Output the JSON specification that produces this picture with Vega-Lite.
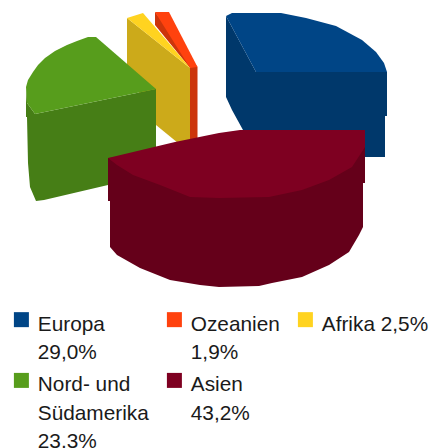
{"$schema":"https://vega.github.io/schema/vega-lite/v6.json","width":438,"height":448,"padding":0,"autosize":"none","background":"white",
"config":{"view":{"stroke":null},"font":"Liberation Sans","style":{"guide-label":{"lineHeight":28.3}}},
"data":{"values":[
{"f":"Ozeanien Seite","i":1,"x":155,"y":12},{"f":"Ozeanien Seite","i":2,"x":155,"y":25},{"f":"Ozeanien Seite","i":3,"x":190,"y":68},{"f":"Ozeanien Seite","i":4,"x":190,"y":145},{"f":"Ozeanien Seite","i":5,"x":197.5,"y":145},{"f":"Ozeanien Seite","i":6,"x":197.5,"y":67},
{"f":"Ozeanien","i":1,"x":155,"y":12},{"f":"Ozeanien","i":2,"x":169,"y":12},{"f":"Ozeanien","i":3,"x":197.5,"y":67},{"f":"Ozeanien","i":4,"x":190,"y":68},
{"f":"Afrika Seite","i":1,"x":127,"y":18},{"f":"Afrika Seite","i":2,"x":127,"y":70},{"f":"Afrika Seite","i":3,"x":156,"y":125},{"f":"Afrika Seite","i":4,"x":178,"y":143},{"f":"Afrika Seite","i":5,"x":190,"y":143},{"f":"Afrika Seite","i":6,"x":190,"y":68},
{"f":"Afrika","i":1,"x":127,"y":18},{"f":"Afrika","i":2,"x":143,"y":13},{"f":"Afrika","i":3,"x":186,"y":63},{"f":"Afrika","i":4,"x":190,"y":68},
{"f":"Nord- und Südamerika Seite","i":1,"x":26,"y":87},{"f":"Nord- und Südamerika Seite","i":2,"x":26,"y":117},{"f":"Nord- und Südamerika Seite","i":3,"x":27,"y":117},{"f":"Nord- und Südamerika Seite","i":4,"x":28,"y":163},{"f":"Nord- und Südamerika Seite","i":5,"x":30,"y":187},{"f":"Nord- und Südamerika Seite","i":6,"x":36,"y":201},{"f":"Nord- und Südamerika Seite","i":7,"x":44,"y":200},{"f":"Nord- und Südamerika Seite","i":8,"x":108,"y":185},{"f":"Nord- und Südamerika Seite","i":9,"x":156,"y":172},{"f":"Nord- und Südamerika Seite","i":10,"x":156,"y":89},{"f":"Nord- und Südamerika Seite","i":11,"x":35,"y":114},{"f":"Nord- und Südamerika Seite","i":12,"x":27,"y":103},
{"f":"Nord- und Südamerika","i":1,"x":96,"y":37},{"f":"Nord- und Südamerika","i":2,"x":88,"y":37},{"f":"Nord- und Südamerika","i":3,"x":77,"y":41},{"f":"Nord- und Südamerika","i":4,"x":67,"y":45},{"f":"Nord- und Südamerika","i":5,"x":55,"y":51},{"f":"Nord- und Südamerika","i":6,"x":45,"y":58},{"f":"Nord- und Südamerika","i":7,"x":38,"y":65},{"f":"Nord- und Südamerika","i":8,"x":33,"y":72},{"f":"Nord- und Südamerika","i":9,"x":28,"y":80},{"f":"Nord- und Südamerika","i":10,"x":26,"y":87},{"f":"Nord- und Südamerika","i":11,"x":27,"y":103},{"f":"Nord- und Südamerika","i":12,"x":35,"y":114},{"f":"Nord- und Südamerika","i":13,"x":156,"y":89},
{"f":"Europa Seite","i":1,"x":226,"y":16},{"f":"Europa Seite","i":2,"x":226,"y":97},{"f":"Europa Seite","i":3,"x":232,"y":110},{"f":"Europa Seite","i":4,"x":243,"y":130},{"f":"Europa Seite","i":5,"x":250,"y":157},{"f":"Europa Seite","i":6,"x":385,"y":157},{"f":"Europa Seite","i":7,"x":385,"y":116},{"f":"Europa Seite","i":8,"x":387,"y":116},{"f":"Europa Seite","i":9,"x":387,"y":72},{"f":"Europa Seite","i":10,"x":256,"y":72},
{"f":"Europa","i":1,"x":226,"y":16},{"f":"Europa","i":2,"x":232,"y":13},{"f":"Europa","i":3,"x":281,"y":13},{"f":"Europa","i":4,"x":306,"y":18},{"f":"Europa","i":5,"x":336,"y":26},{"f":"Europa","i":6,"x":362,"y":40},{"f":"Europa","i":7,"x":376,"y":52},{"f":"Europa","i":8,"x":384,"y":63},{"f":"Europa","i":9,"x":387,"y":72},{"f":"Europa","i":10,"x":256,"y":72},
{"f":"Asien Seite","i":1,"x":108,"y":158},{"f":"Asien Seite","i":2,"x":108,"y":201},{"f":"Asien Seite","i":3,"x":110,"y":201},{"f":"Asien Seite","i":4,"x":110,"y":247},{"f":"Asien Seite","i":5,"x":117,"y":255},{"f":"Asien Seite","i":6,"x":140,"y":268},{"f":"Asien Seite","i":7,"x":170,"y":280},{"f":"Asien Seite","i":8,"x":200,"y":285},{"f":"Asien Seite","i":9,"x":219,"y":287},{"f":"Asien Seite","i":10,"x":259,"y":286},{"f":"Asien Seite","i":11,"x":272,"y":283},{"f":"Asien Seite","i":12,"x":302,"y":277},{"f":"Asien Seite","i":13,"x":329,"y":265},{"f":"Asien Seite","i":14,"x":349,"y":252},{"f":"Asien Seite","i":15,"x":359,"y":235},{"f":"Asien Seite","i":16,"x":363,"y":227},{"f":"Asien Seite","i":17,"x":363,"y":183},{"f":"Asien Seite","i":18,"x":365,"y":183},{"f":"Asien Seite","i":19,"x":365,"y":147},
{"f":"Asien","i":1,"x":108,"y":158},{"f":"Asien","i":2,"x":175,"y":142},{"f":"Asien","i":3,"x":219,"y":133},{"f":"Asien","i":4,"x":240,"y":130},{"f":"Asien","i":5,"x":365,"y":130},{"f":"Asien","i":6,"x":365,"y":147},{"f":"Asien","i":7,"x":352,"y":167},{"f":"Asien","i":8,"x":329,"y":180},{"f":"Asien","i":9,"x":302,"y":190},{"f":"Asien","i":10,"x":269,"y":197},{"f":"Asien","i":11,"x":219,"y":198},{"f":"Asien","i":12,"x":190,"y":197},{"f":"Asien","i":13,"x":160,"y":185},{"f":"Asien","i":14,"x":133,"y":175},{"f":"Asien","i":15,"x":117,"y":165}
]},
"mark":{"type":"line","filled":true,"strokeWidth":0,"interpolate":"linear"},
"encoding":{
"x":{"field":"x","type":"quantitative","scale":{"domain":[0,438]},"axis":null},
"y":{"field":"y","type":"quantitative","scale":{"domain":[0,448],"reverse":true},"axis":null},
"order":{"field":"i","type":"quantitative"},
"fill":{"field":"f","type":"nominal","sort":null,
"scale":{"domain":["Europa","Ozeanien","Afrika","Nord- und Südamerika","Asien","Europa Seite","Ozeanien Seite","Afrika Seite","Nord- und Südamerika Seite","Asien Seite"],"range":["#004586","#ff420e","#ffd320","#579d1c","#7e0021","#00386b","#cc350b","#ccaa1a","#467e16","#65001a"]},
"legend":{"title":null,"orient":"none","legendX":11,"legendY":309,"columns":3,"columnPadding":15,"rowPadding":7,"padding":0,"values":["Europa","Nord- und Südamerika","Ozeanien","Asien","Afrika"],"symbolType":"square","symbolSize":225,"symbolStrokeWidth":0,"symbolOffset":0,"labelFont":"Liberation Sans","labelFontSize":20.8,"labelColor":"#1a1a1a","labelBaseline":"top","labelOffset":6,"labelLimit":200,
"labelExpr":"{'Europa':['Europa','29,0%'],'Ozeanien':['Ozeanien','1,9%'],'Afrika':['Afrika 2,5%',' '],'Nord- und Südamerika':['Nord- und','Südamerika','23,3%'],'Asien':['Asien','43,2%']}[datum.label]",
"encoding":{"labels":{"dy":{"value":-5}}}}}
}}
